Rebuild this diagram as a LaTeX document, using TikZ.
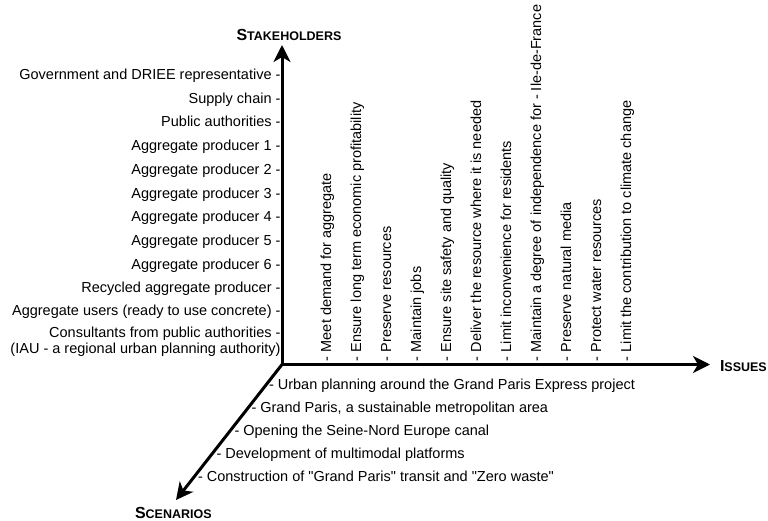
\documentclass[tikz,border=0pt]{standalone}
\usepackage{fontspec}
\setmainfont{Liberation Sans}
\newfontfamily\qfont{Liberation Sans}[Ligatures=TeXOff]
\usetikzlibrary{arrows.meta}
\newcommand\bigsmall[2]{{\fontsize{16}{18}\selectfont #1}{\fontsize{12.5}{14}\selectfont #2}}
\newcommand\dq{{\qfont\symbol{34}}}
\begin{document}
\begin{tikzpicture}[x=1pt,y=-1pt,
  lbl/.style={inner sep=0pt, outer sep=0pt, font=\fontsize{14.5}{16}\selectfont},
  sh/.style={lbl, anchor=base east},
  iss/.style={lbl, anchor=base west, rotate=90},
  scn/.style={lbl, anchor=base west},
  ttl/.style={inner sep=0pt, outer sep=0pt, font=\bfseries},
  axisline/.style={line width=3pt, line join=miter},
  tip/.tip={Stealth[length=17pt,width=17pt,inset=5pt]}
]
\useasboundingbox (0,0) rectangle (768,521);

% axes
\coordinate (O) at (282,364.5);
\coordinate (Ytip) at (282,45);
\coordinate (Xtip) at (710,364.5);
\coordinate (Ztip) at (176,500);
\draw[axisline, tip-tip] (Ytip) -- (O) -- (Xtip);
\draw[axisline, -tip] (O) -- (Ztip);

% titles
\node[ttl, anchor=base] (tS) at (289,40.5) {\bigsmall{S}{TAKEHOLDERS}};
\node[ttl, anchor=base west] (tI) at (720,371.5) {\bigsmall{I}{SSUES}};
\node[ttl, anchor=base west] (tC) at (135,518.5) {\bigsmall{S}{CENARIOS}};

% stakeholders
\node[sh] (s1) at (280.5,80) {Government and DRIEE representative -};
\node[sh] (s2) at (280.5,104) {Supply chain -};
\node[sh] (s3) at (280.5,127) {Public authorities -};
\node[sh] (s4) at (280.5,151) {Aggregate producer 1 -};
\node[sh] (s5) at (280.5,175) {Aggregate producer 2 -};
\node[sh] (s6) at (280.5,198.5) {Aggregate producer 3 -};
\node[sh] (s7) at (280.5,222) {Aggregate producer 4 -};
\node[sh] (s8) at (280.5,246) {Aggregate producer 5 -};
\node[sh] (s9) at (280.5,269.5) {Aggregate producer 6 -};
\node[sh] (s10) at (280.5,292.5) {Recycled aggregate producer -};
\node[sh] (s11) at (280.5,316) {Aggregate users (ready to use concrete) -};
\node[sh] (s12) at (280.5,337.5) {Consultants from public authorities -};
\node[sh] (s13) at (280.5,353) {(IAU - a regional urban planning authority)};

% issues
\node[iss] (i1) at (331,361) {- Meet demand for aggregate};
\node[iss] (i2) at (361,361) {- Ensure long term economic profitability};
\node[iss] (i3) at (391,361) {- Preserve resources};
\node[iss] (i4) at (421,361) {- Maintain jobs};
\node[iss] (i5) at (451,361) {- Ensure site safety and quality};
\node[iss] (i6) at (481,361) {- Deliver the resource where it is needed};
\node[iss] (i7) at (511,361) {- Limit inconvenience for residents};
\node[iss] (i8) at (541,361) {- Maintain a degree of independence for - Ile-de-France};
\node[iss] (i9) at (571,361) {- Preserve natural media};
\node[iss] (i10) at (601,361) {- Protect water resources};
\node[iss] (i11) at (631,361) {- Limit the contribution to climate change};

% scenarios
\node[scn] (c1) at (269,389.3) {- Urban planning around the Grand Paris Express project};
\node[scn] (c2) at (251.5,412.5) {- Grand Paris, a sustainable metropolitan area};
\node[scn] (c3) at (234.5,435.5) {- Opening the Seine-Nord Europe canal};
\node[scn] (c4) at (216.5,458.5) {- Development of multimodal platforms};
\node[scn] (c5) at (198,481.5) {- Construction of \dq Grand Paris\dq{} transit and \dq Zero waste\dq};
\end{tikzpicture}
\end{document}
